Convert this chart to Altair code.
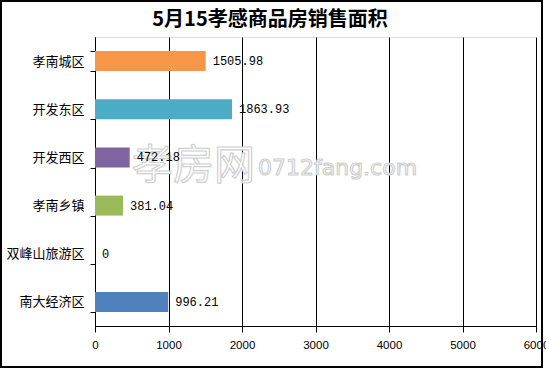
import altair as alt
import pandas as pd

categories = ["孝南城区", "开发东区", "开发西区", "孝南乡镇", "双峰山旅游区", "南大经济区"]
values = [1505.98, 1863.93, 472.18, 381.04, 0, 996.21]
labels = ["1505.98", "1863.93", "472.18", "381.04", "0", "996.21"]
colors = ["#F79646", "#4BACC6", "#8064A2", "#9BBB59", "#FFFFFF", "#4F81BD"]
x_ticks = [0, 1000, 2000, 3000, 4000, 5000, 6000]
title_text = "5月15孝感商品房销售面积"

df = pd.DataFrame({"cat": categories, "val": values, "lab": labels, "col": colors})

W, H = 441, 289
PL, PT, PR, PB = 95, 37, 10, 43

yenc = alt.Y("cat:N", sort=categories, title=None,
             scale=alt.Scale(paddingInner=0.58, paddingOuter=0.29),
             axis=alt.Axis(labelFont="Noto Sans CJK SC", labelFontSize=13, labelColor="#000",
                           domainColor="#000", tickColor="#000", tickSize=5, tickBand="extent",
                           labelPadding=6, grid=False))
xenc = alt.X("val:Q", title=None,
             scale=alt.Scale(domain=[0, 6000], nice=False),
             axis=alt.Axis(values=x_ticks, format="d", labelFont="Liberation Sans", labelFontSize=11.5,
                           labelColor="#000", domainColor="#000", tickColor="#000", tickSize=6,
                           labelPadding=7, grid=True, gridColor="#000", gridOpacity=1,
                           labelOverlap=False, labelFlush=False))

bars = alt.Chart(df).mark_bar(size=20).encode(
    x=xenc, y=yenc, color=alt.Color("col:N", scale=None))

text = alt.Chart(df).mark_text(align="left", dx=7, font="Liberation Mono", fontSize=12, color="#000").encode(
    x="val:Q", y=alt.Y("cat:N", sort=categories), text="lab:N")

wm = pd.DataFrame({"t": ["孝房网", "0712fang.com"], "px": [37, 163], "py": [130, 131],
                   "fs": [41, 22], "ff": ["Noto Sans CJK SC", "DejaVu Sans"]})
water1 = alt.Chart(wm.iloc[[0]]).mark_text(align="left", baseline="middle", font="Noto Sans CJK SC",
                                 fill="#FFFFFF", stroke="#CFCFCF", strokeWidth=1.2).encode(
    x=alt.X("px:Q", scale=None), y=alt.Y("py:Q", scale=None), text="t:N",
    size=alt.Size("fs:Q", scale=None))
water2 = alt.Chart(wm.iloc[[1]]).mark_text(align="left", baseline="middle", font="DejaVu Sans",
                                 fill="#FFFFFF", stroke="#CFCFCF", strokeWidth=1.2).encode(
    x=alt.X("px:Q", scale=None), y=alt.Y("py:Q", scale=None), text="t:N",
    size=alt.Size("fs:Q", scale=None))

frame = alt.Chart(pd.DataFrame({"a": [0]})).mark_rect(fill=None, stroke="#000", strokeWidth=2, clip=False).encode(
    x=alt.value(-PL + 1), x2=alt.value(W + PR - 4), y=alt.value(-PT + 1), y2=alt.value(H + PB - 2))

title = alt.Chart(pd.DataFrame({"t": [title_text]})).mark_text(
    font="Noto Sans CJK SC", fontSize=20, fontWeight="bold", color="#000", clip=False).encode(
    x=alt.value(270 - PL), y=alt.value(20 - PT), text="t:N")

chart = alt.layer(bars, water1, water2, text, frame, title).properties(
    width=W, height=H,
    autosize=alt.AutoSizeParams(type="none"),
    padding={"left": PL, "top": PT, "right": PR, "bottom": PB},
).configure_view(stroke=None).configure(background="#FFFFFF")

chart.save("out.html", embed_options={"renderer": "svg", "actions": False})
